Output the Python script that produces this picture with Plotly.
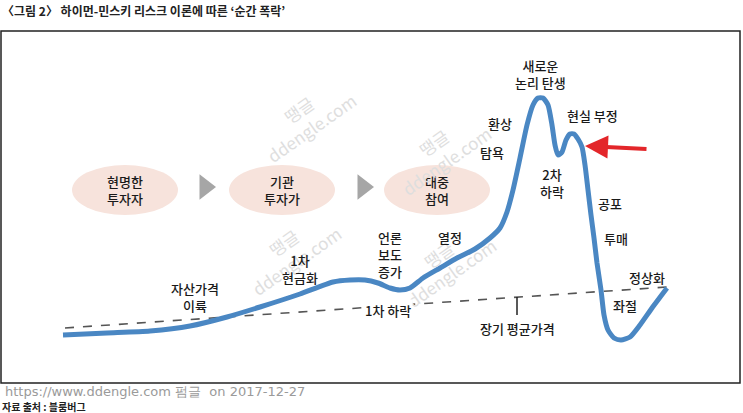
import plotly.graph_objects as go

# ---- data (x = time, y = price level, chart units) ----
time_x = [63, 107, 150, 190, 227, 260, 300, 333, 350, 365, 378, 390, 400, 410, 423, 440, 457,
          475, 490, 500, 507, 513, 520, 527, 533, 538, 543, 548, 552, 555, 558, 562, 566, 570,
          574, 578, 582, 585, 588, 591, 594, 597, 601, 604, 608, 614, 621, 630, 640, 652, 667]
price_y = [78, 80, 82, 87, 96, 106, 119, 131, 133, 133, 130, 125, 123, 125, 135, 145, 155,
           164, 175, 185, 201, 223, 255, 288, 308, 315, 315, 308, 288, 268, 258, 261, 273, 279,
           279, 274, 266, 248, 223, 198, 175, 150, 123, 98, 83, 75, 73, 76, 88, 105, 125]

avg_x = [65, 667]
avg_y = [85, 126]

stage_labels = ["현명한<br>투자자", "기관<br>투자가", "대중<br>참여"]
stage_x = [125, 282, 437]
stage_y = [223, 223, 223]
arrow_x = [205, 363]
arrow_y = [226, 226]

phase_labels = ["자산가격<br>이륙", "1차<br>현금화", "언론<br>보도<br>증가", "열정", "탐욕", "환상",
                "새로운<br>논리 탄생", "현실 부정", "2차<br>하락", "공포", "투매", "정상화", "좌절"]
phase_x = [195, 300, 390, 450, 492, 500, 540, 592, 552, 610, 616, 647, 625]
phase_y = [116, 144, 159, 176, 261, 290, 339, 298, 230, 210, 175, 136, 108]

BLUE = "#4a87c3"
FONT = "Noto Sans CJK KR"
TXT = dict(family=FONT, size=13, color="#1a1a1a", weight=500)

fig = go.Figure()

# long-run average price (dashed)
fig.add_trace(go.Scatter(x=avg_x, y=avg_y, mode="lines",
                         line=dict(color="#555555", width=1.6, dash="dash"),
                         hoverinfo="skip", showlegend=False))

# price curve
fig.add_trace(go.Scatter(x=time_x, y=price_y, mode="lines",
                         line=dict(color=BLUE, width=5, shape="spline", smoothing=0.6),
                         hoverinfo="skip", showlegend=False))

# stage arrows
fig.add_trace(go.Scatter(x=arrow_x, y=arrow_y, mode="markers",
                         marker=dict(symbol="triangle-right", size=22, color="#a6a6a6"),
                         hoverinfo="skip", showlegend=False))

shapes = []
# frame
shapes.append(dict(type="rect", xref="x", yref="y", x0=1, x1=740, y0=30, y1=382,
                   line=dict(color="#222222", width=1.5), layer="below"))
# stage ellipses
for sx, sy in zip(stage_x, stage_y):
    shapes.append(dict(type="circle", xref="x", yref="y", x0=sx - 53, x1=sx + 53,
                       y0=sy - 25, y1=sy + 25, fillcolor="#f7e3dc",
                       line=dict(width=0), layer="below"))
# tick for long-run average
shapes.append(dict(type="line", xref="x", yref="y", x0=517, x1=517, y0=98, y1=116,
                   line=dict(color="#222222", width=1.5)))

annotations = []
for lab, sx, sy in zip(stage_labels, stage_x, stage_y):
    annotations.append(dict(x=sx, y=sy, text=lab, showarrow=False, font=TXT))

# watermarks
for wx, wy in [(305, 295), (440, 262), (290, 162), (445, 150)]:
    annotations.append(dict(x=wx, y=wy, text="땡글<br>ddengle.com", showarrow=False,
                            textangle=-35,
                            font=dict(family=FONT, size=17, color="#dedede")))

for lab, px, py in zip(phase_labels, phase_x, phase_y):
    annotations.append(dict(x=px, y=py, text=lab, showarrow=False, font=TXT))

annotations.append(dict(x=388, y=103, text="1차 하락", showarrow=False, bgcolor="white", font=TXT))
annotations.append(dict(x=517, y=85, text="장기 평균가격", showarrow=False, font=TXT))

# red hand-drawn arrow
annotations.append(dict(x=585, y=267, ax=648, ay=264, xref="x", yref="y", axref="x", ayref="y",
                        text="", showarrow=True, arrowhead=2, arrowsize=1.15, arrowwidth=4,
                        arrowcolor="#e3262a"))

# title, watermark url, source
annotations.append(dict(x=0, y=403, xanchor="left",
                        text="〈그림 2〉 하이먼-민스키 리스크 이론에 따른 ‘순간 폭락’",
                        showarrow=False, font=dict(family=FONT, size=12, color="#222222", weight="bold")))
annotations.append(dict(x=3, y=22, xanchor="left", text="https://www.ddengle.com 펌글  on 2017-12-27",
                        showarrow=False, font=dict(family="DejaVu Sans", size=13, color="#9a9a9a")))
annotations.append(dict(x=0, y=7, xanchor="left", text="<b>자료 출처 : 블룸버그</b>",
                        showarrow=False, font=dict(family=FONT, size=10, color="#222222")))

fig.update_layout(
    width=743, height=413,
    margin=dict(l=0, r=0, t=0, b=0),
    paper_bgcolor="white", plot_bgcolor="white",
    xaxis=dict(range=[0, 743], visible=False, fixedrange=True),
    yaxis=dict(range=[0, 413], visible=False, fixedrange=True),
    shapes=shapes, annotations=annotations, showlegend=False,
)

fig.write_html("out.html", config=dict(displayModeBar=False),
               post_script="document.body.style.margin='0';document.body.style.overflow='hidden';")
